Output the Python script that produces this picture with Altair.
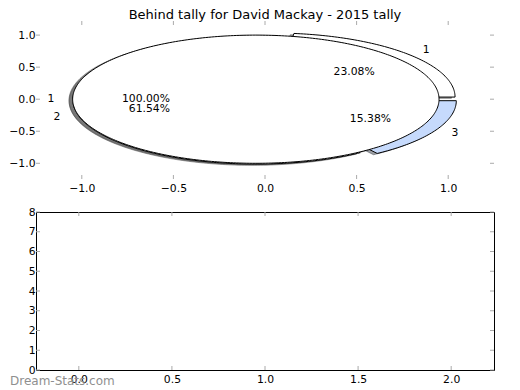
import math
import numpy as np
import pandas as pd
import altair as alt

# ---------------- data ----------------
TITLE = "Behind tally for David Mackay - 2015 tally"
OUTER_LABELS = ["1", "2", "3"]
OUTER_VALUES = [3, 8, 2]
INNER_LABELS = ["1"]
INNER_VALUES = [1]
PIE_TICKS = [-1.0, -0.5, 0.0, 0.5, 1.0]
LOWER_X_TICKS = [0.0, 0.5, 1.0, 1.5, 2.0]
LOWER_Y_TICKS = [0, 1, 2, 3, 4, 5, 6, 7, 8]
WATERMARK = "Dream-Stats.com"

PIE_X_DOMAIN = [-1.25, 1.25]
PIE_Y_DOMAIN = [-1.245, 1.22]
LOWER_X_DOMAIN = [-0.23, 2.23]
LOWER_Y_DOMAIN = [0, 8]

# ---------------- style ----------------
EXPLODE = 0.05
SHADOW_DX, SHADOW_DY = -0.02, -0.02
LABEL_DIST, PCT_DIST = 1.1, 0.6
OUTER_COLORS = ["#ffffff", "#ffffff", "#c6dafc"]
INNER_COLORS = ["#ffffff"]
FONT = "DejaVu Sans"
LS = 10.8
TICK_COLOR = "#aaaaaa"
W, H1, H2 = 458, 158, 158
TL = 4


def darken(hex_color, rho=0.3):
    h = hex_color.lstrip("#")
    r, g, b = (int(h[i:i + 2], 16) for i in (0, 2, 4))
    return "#{:02x}{:02x}{:02x}".format(int(r * rho), int(g * rho), int(b * rho))


poly_rows, text_rows = [], []
fill_domain, fill_range = [], []


def add_pie(name, values, labels, colors):
    total = float(sum(values))
    t1 = 0.0
    for k, (v, lab, col) in enumerate(zip(values, labels, colors)):
        frac = v / total
        t2 = t1 + 360.0 * frac
        tm = math.radians((t1 + t2) / 2)
        cx, cy = EXPLODE * math.cos(tm), EXPLODE * math.sin(tm)
        angs = np.radians(np.linspace(t1, t2, max(int(t2 - t1), 2) + 1))
        pts = [(cx + math.cos(a), cy + math.sin(a)) for a in angs]
        if frac < 1:
            pts = [(cx, cy)] + pts + [(cx, cy)]
        key = f"{name}{k}"
        for kind, dx, dy, c in (("shadow", SHADOW_DX, SHADOW_DY, darken(col)),
                                ("wedge", 0.0, 0.0, col)):
            fk = f"{kind}-{key}"
            fill_domain.append(fk)
            fill_range.append(c)
            for i, (qx, qy) in enumerate(pts):
                poly_rows.append({"key": fk, "kind": kind, "pie": name, "i": i,
                                  "x": qx + dx, "y": qy + dy})
        lx, ly = cx + LABEL_DIST * math.cos(tm), cy + LABEL_DIST * math.sin(tm)
        text_rows.append({"x": lx, "y": ly, "text": lab,
                          "pos": "left" if lx > 0 else "right"})
        tx, ty = cx + PCT_DIST * math.cos(tm), cy + PCT_DIST * math.sin(tm)
        text_rows.append({"x": tx, "y": ty, "text": f"{100 * frac:.2f}%", "pos": "center"})
        t1 = t2


add_pie("a", OUTER_VALUES, OUTER_LABELS, OUTER_COLORS)
add_pie("b", INNER_VALUES, INNER_LABELS, INNER_COLORS)

polys = pd.DataFrame(poly_rows)
texts = pd.DataFrame(text_rows)


def axis(values, fmt, pad):
    return alt.Axis(values=values, format=fmt, title=None, domain=False, ticks=False,
                    tickSize=0, grid=False, labelPadding=pad, labelFont=FONT,
                    labelFontSize=LS, labelColor="black", labelOverlap=False,
                    labelFlush=False)


def panel_encodings(xdom, ydom, xt, yt, xfmt, yfmt):
    X = alt.X("x:Q", scale=alt.Scale(domain=xdom, nice=False, zero=False),
              axis=axis(xt, xfmt, 3))
    Y = alt.Y("y:Q", scale=alt.Scale(domain=ydom, nice=False, zero=False),
              axis=axis(yt, yfmt, 1))
    return X, Y


def tick_layers(X, Y, xt, yt, h):
    xd = pd.DataFrame({"x": xt})
    yd = pd.DataFrame({"y": yt})
    rule = dict(color=TICK_COLOR, strokeWidth=1)
    return [
        alt.Chart(yd).mark_rule(**rule).encode(y=Y, x=alt.value(0), x2=alt.value(TL)),
        alt.Chart(yd).mark_rule(**rule).encode(y=Y, x=alt.value(W - TL), x2=alt.value(W)),
        alt.Chart(xd).mark_rule(**rule).encode(x=X, y=alt.value(0), y2=alt.value(TL)),
        alt.Chart(xd).mark_rule(**rule).encode(x=X, y=alt.value(h - TL), y2=alt.value(h)),
    ]


# ---------------- top panel: pie ----------------
PX, PY = panel_encodings(PIE_X_DOMAIN, PIE_Y_DOMAIN, PIE_TICKS, PIE_TICKS, ".1f", ".1f")
FILL = alt.Fill("key:N", scale=alt.Scale(domain=fill_domain, range=fill_range), legend=None)
STROKE = alt.Stroke("key:N", scale=alt.Scale(domain=fill_domain, range=fill_range), legend=None)
ORDER = alt.Order("i:Q")

base = alt.Chart(polys)
shadows = base.transform_filter("datum.kind == 'shadow'").mark_line(
    fillOpacity=0.5, strokeOpacity=0.5, strokeWidth=1
).encode(x=PX, y=PY, fill=FILL, stroke=STROKE, order=ORDER, detail="key:N")
outer = base.transform_filter("datum.kind == 'wedge' && datum.pie == 'a'").mark_line(
    stroke="black", strokeWidth=1, strokeJoin="miter"
).encode(x=PX, y=PY, fill=FILL, order=ORDER, detail="key:N")
inner = base.transform_filter("datum.kind == 'wedge' && datum.pie == 'b'").mark_line(
    stroke="black", strokeWidth=1
).encode(x=PX, y=PY, fill=FILL, order=ORDER, detail="key:N")

tbase = alt.Chart(texts)
txt = [
    tbase.transform_filter(f"datum.pos == '{p}'").mark_text(
        align=p, baseline="middle", font=FONT, fontSize=LS, color="black"
    ).encode(x=PX, y=PY, text="text:N")
    for p in ("left", "right", "center")
]

top = alt.layer(
    shadows, outer, inner, *txt,
    *tick_layers(PX, PY, PIE_TICKS, PIE_TICKS, H1)
).properties(
    width=W, height=H1,
    title=alt.TitleParams(TITLE, font=FONT, fontSize=13, fontWeight="normal",
                          color="black", anchor="middle", offset=-1),
    view=alt.ViewBackground(stroke="transparent"),
)

# ---------------- bottom panel: empty axes ----------------
LX, LY = panel_encodings(LOWER_X_DOMAIN, LOWER_Y_DOMAIN, LOWER_X_TICKS, LOWER_Y_TICKS, ".1f", "d")
mark_df = pd.DataFrame({"text": [WATERMARK]})
watermark = alt.Chart(mark_df).mark_text(
    align="left", baseline="middle", font=FONT, fontSize=12, color="#8f8f8f"
).encode(text="text:N", x=alt.value(-26), y=alt.value(H2 + 11))

bottom = alt.layer(
    watermark, *tick_layers(LX, LY, LOWER_X_TICKS, LOWER_Y_TICKS, H2)
).properties(
    width=W, height=H2,
    view=alt.ViewBackground(stroke="black", strokeWidth=1),
)

chart = alt.vconcat(top, bottom, spacing=33, bounds="flush").properties(
    padding={"left": 0, "top": 0, "right": 5, "bottom": 5},
    background="white",
)

chart.save("out.html", embed_options={"renderer": "svg", "actions": False})
